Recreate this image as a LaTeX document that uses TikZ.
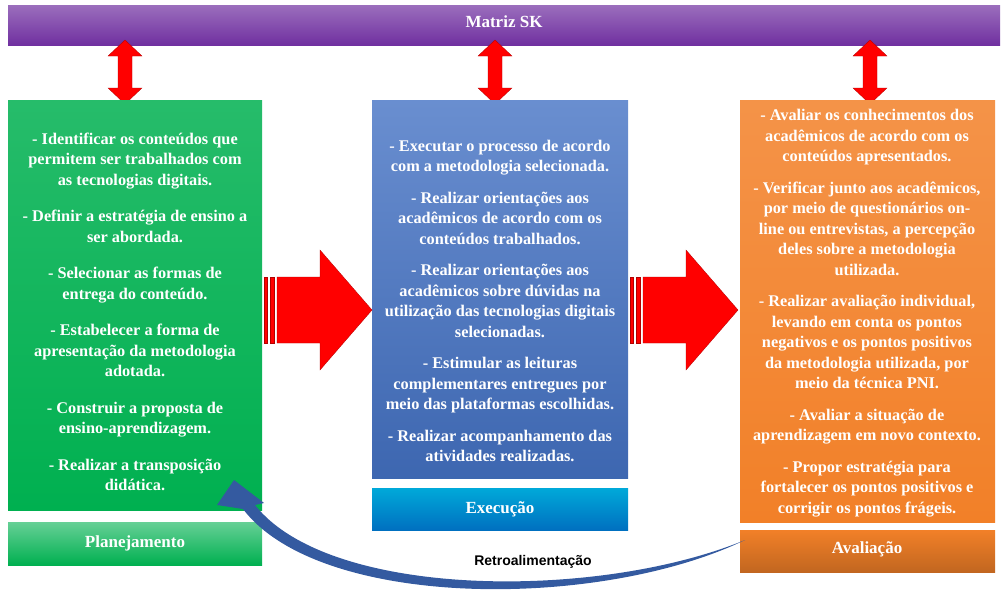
\documentclass[tikz,border=0pt]{standalone}
\usepackage{fontspec}
\setmainfont{Liberation Serif}
\newfontfamily\labelfont{Liberation Sans}
\usetikzlibrary{positioning}
\definecolor{matrizpurple}{RGB}{112,48,160}
\definecolor{planegreen}{RGB}{0,176,80}
\definecolor{execblue}{RGB}{68,114,196}
\definecolor{labelblue}{RGB}{0,112,192}
\definecolor{avalorange}{RGB}{242,128,40}
\definecolor{retroblue}{RGB}{52,90,160}
\tikzset{
  stagebox/.style={draw=none, text=white, font=\bfseries\fontsize{16.3}{20.5}\selectfont,
    align=center, inner sep=0pt},
  titlebox/.style={text=white, font=\bfseries\fontsize{17}{19}\selectfont, align=center},
  bigarrow/.style={fill=red, draw=red!70!black, line width=0.3pt},
  updown/.style={fill=red, draw=red!70!black, line width=0.3pt}
}
\begin{document}
\begin{tikzpicture}[x=1pt,y=-1pt]
  \useasboundingbox (0,0) rectangle (1003,592);
  % top bar
  \shade[top color=matrizpurple!70, bottom color=matrizpurple] (8,5) rectangle (1000,45);
  \node[titlebox] (matriz) at (504,22) {Matriz SK};

  % vertical double arrows
  \foreach \xc in {125,495,870}{
    \path[updown] (\xc,40) -- (\xc+17,56) -- (\xc+7,56) -- (\xc+7,88) -- (\xc+17,88)
      -- (\xc,104) -- (\xc-17,88) -- (\xc-7,88) -- (\xc-7,56) -- (\xc-17,56) -- cycle;
  }

  % stage boxes
  \shade[top color=planegreen!85!white, bottom color=planegreen] (8,100) rectangle (262,510);
  \shade[top color=execblue!80!white, bottom color=execblue!90!black] (372,100) rectangle (628,478);
  \shade[top color=avalorange!85!white, bottom color=avalorange] (740,100) rectangle (995,522);

  \node[stagebox] (plano) at (135,312) {%
    - Identificar os conteúdos que\\ permitem ser trabalhados com\\ as tecnologias digitais.\\[16pt]
    - Definir a estratégia de ensino a\\ ser abordada.\\[16pt]
    - Selecionar as formas de\\ entrega do conteúdo.\\[16pt]
    - Estabelecer a forma de\\ apresentação da metodologia\\ adotada.\\[16pt]
    - Construir a proposta de\\ ensino-aprendizagem.\\[16pt]
    - Realizar a transposição\\ didática.};
  \node[stagebox] (exec) at (500,301) {%
    - Executar o processo de acordo\\ com a metodologia selecionada.\\[11pt]
    - Realizar orientações aos\\ acadêmicos de acordo com os\\ conteúdos trabalhados.\\[11pt]
    - Realizar orientações aos\\ acadêmicos sobre dúvidas na\\ utilização das tecnologias digitais\\ selecionadas.\\[11pt]
    - Estimular as leituras\\ complementares entregues por\\ meio das plataformas escolhidas.\\[11pt]
    - Realizar acompanhamento das\\ atividades realizadas.};
  \node[stagebox] (aval) at (867,313) {%
    - Avaliar os conhecimentos dos\\ acadêmicos de acordo com os\\ conteúdos apresentados.\\[11pt]
    - Verificar junto aos acadêmicos,\\ por meio de questionários on-\\ line ou entrevistas, a percepção\\ deles sobre a metodologia\\ utilizada.\\[11pt]
    - Realizar avaliação individual,\\ levando em conta os pontos\\ negativos e os pontos positivos\\ da metodologia utilizada, por\\ meio da técnica PNI.\\[11pt]
    - Avaliar a situação de\\ aprendizagem em novo contexto.\\[11pt]
    - Propor estratégia para\\ fortalecer os pontos positivos e\\ corrigir os pontos frágeis.};

  % label boxes
  \shade[top color=planegreen!60!white, bottom color=planegreen] (8,522) rectangle (262,565);
  \node[titlebox] (planolabel) at (135,543) {Planejamento};
  \shade[top color=labelblue!60!cyan, bottom color=labelblue] (372,488) rectangle (628,530);
  \node[titlebox] (execlabel) at (500,509) {Execução};
  \shade[top color=avalorange, bottom color=avalorange!80!black] (740,530) rectangle (995,572);
  \node[titlebox] (avallabel) at (867,549) {Avaliação};

  % big arrows between stages
  \foreach \xs in {262,628}{
    \path[bigarrow] (\xs+2,277) rectangle (\xs+5,343);
    \path[bigarrow] (\xs+8,277) rectangle (\xs+12,343);
    \path[bigarrow] (\xs+15,277) -- (\xs+58,277) -- (\xs+58,250) -- (\xs+110,310)
      -- (\xs+58,370) -- (\xs+58,343) -- (\xs+15,343) -- cycle;
  }

  % feedback arrow
  \coordinate (retrostart) at (745,540);
  \coordinate (retrotip) at (234,480);
  \fill[retroblue] (retrostart) .. controls (600,600) and (330,600) .. (255,505)
    -- (264,503) -- (retrotip) -- (217,505) -- (243,509)
    .. controls (320,610) and (600,610) .. (retrostart) -- cycle;
  \node[font=\labelfont\bfseries\fontsize{14}{16}\selectfont] (retro) at (533,562) {Retroalimentação};
\end{tikzpicture}
\end{document}
